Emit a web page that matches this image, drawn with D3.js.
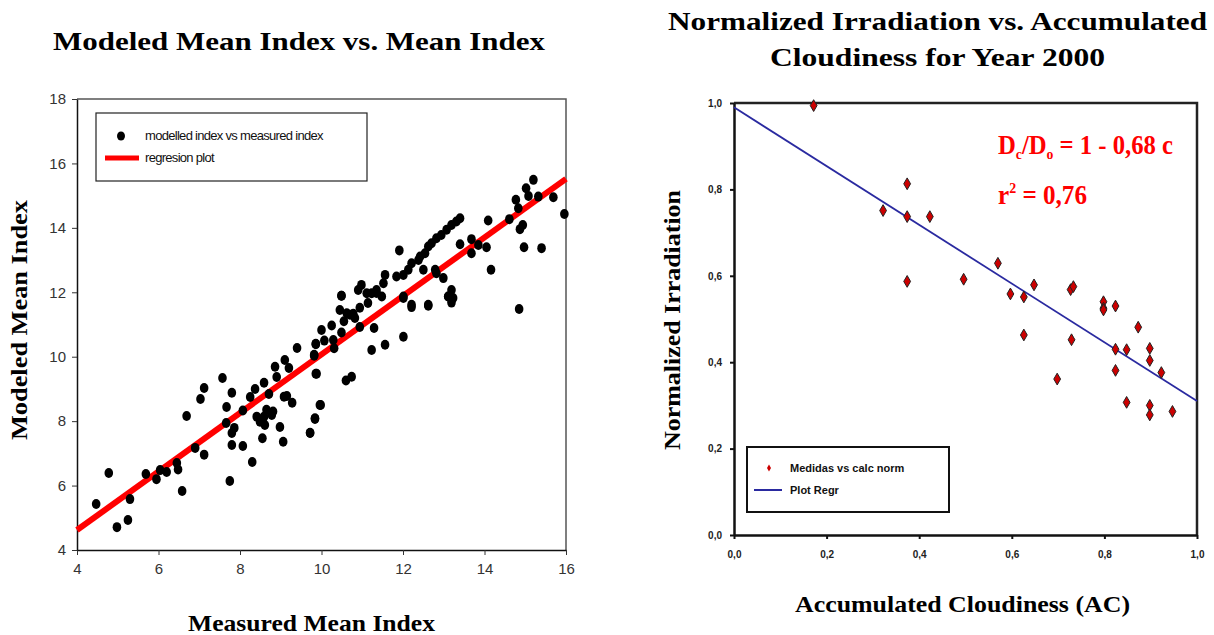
<!DOCTYPE html>
<html><head><meta charset="utf-8">
<script src="https://cdn.jsdelivr.net/npm/d3@7"></script>
<style>
body{margin:0;background:#fff;}
svg{display:block;}
</style></head>
<body><svg id="c" width="1214" height="635"></svg>
<script>
// ---------- Left chart data ----------
const leftMeasured = [4.47,4.78,4.98,5.25,5.30,5.69,5.95,6.04,6.2,6.45,6.48,6.58,6.69,6.9,7.03,7.12,7.12,7.57,7.67,7.66,7.75,7.80,7.80,7.80,7.86,8.07,8.07,8.25,8.3,8.37,8.41,8.49,8.55,8.59,8.59,8.61,8.65,8.71,8.78,8.81,8.86,8.90,8.98,9.06,9.08,9.10,9.15,9.2,9.28,9.4,9.72,9.82,9.84,9.86,9.88,9.96,
10.49,10.62,10.78,10.94,11.14,11.35,11.48,10.0,10.25,10.07,9.86,9.82,10.29,10.31,10.49,10.94,11.29,11.23,11.56,12.01,12.01,12.21,12.62,13.11,13.19,14.85,9.86,10.6,10.74,9.98,9.84,9.72,
15.2,15.02,15.08,15.32,15.69,14.77,14.83,14.61,15.96,14.09,14.94,14.87,14.97,15.4,14.16,13.4,13.31,13.19,13.07,12.94,12.82,12.7,12.62,12.54,12.42,12.38,11.91,13.4,13.68,13.68,13.85,14.05,12.21,12.13,12.01,11.84,11.56,11.52,11.35,11.23,10.98,10.9,11.11,12.5,12.79,12.82,12.99,13.19,13.23,13.11,12.01,12.21,12.62,10.49,10.55,10.7,10.45,10.82];
const leftModeled = [5.43,6.39,4.71,4.93,5.58,6.36,6.2,6.48,6.42,6.7,6.5,5.83,8.16,7.17,8.69,9.03,6.96,9.34,8.44,7.94,6.14,8.88,7.63,7.26,7.79,7.23,8.33,8.75,6.73,9.0,8.14,7.98,7.47,9.19,8.14,7.88,8.35,8.84,8.19,8.30,9.69,9.37,7.82,7.36,8.76,9.9,8.78,9.65,8.57,10.27,7.63,10.03,8.07,10.4,9.47,8.5,
11.89,11.35,11.33,11.52,11.67,11.98,11.87,10.83,10.97,10.5,10.39,10.06,10.52,10.26,10.75,10.92,10.89,10.21,10.37,10.62,11.82,11.54,11.58,11.87,11.68,11.48,9.47,9.26,9.38,8.5,8.09,7.64,
15.49,15.23,14.99,14.97,14.95,14.87,14.61,14.27,14.43,14.23,14.09,13.96,13.4,13.37,12.7,14.3,14.2,14.09,13.94,13.78,13.68,13.52,13.42,13.21,13.11,13.0,13.3,13.49,13.65,13.21,13.47,13.4,12.9,12.7,12.54,12.49,12.54,12.28,12.07,11.97,12.23,12.07,11.97,12.7,12.7,12.59,12.44,12.07,11.82,11.87,11.87,11.61,11.61,11.89,11.1,11.3,11.45,11.2];
const leftRegX = [4, 16];
const leftRegY = [4.62, 15.52];
const leftXTicks = [4, 6, 8, 10, 12, 14, 16];
const leftYTicks = [4, 6, 8, 10, 12, 14, 16, 18];
const leftTitle = "Modeled Mean Index vs. Mean Index";
const leftXLabel = "Measured Mean Index";
const leftYLabel = "Modeled Mean Index";
const leftLegend = ["modelled index vs measured index", "regresion plot"];

// ---------- Right chart data ----------
const rightCloud = [0.172,0.374,0.322,0.374,0.423,0.374,0.570,0.496,0.597,0.626,0.648,0.727,0.733,0.798,0.798,0.824,0.798,0.626,0.729,0.698,0.873,0.824,0.848,0.898,0.898,0.824,0.923,0.848,0.898,0.898,0.947];
const rightIrrad = [0.994,0.813,0.751,0.737,0.737,0.587,0.629,0.592,0.558,0.551,0.579,0.568,0.575,0.540,0.525,0.530,0.521,0.463,0.452,0.361,0.481,0.430,0.429,0.432,0.404,0.381,0.376,0.307,0.300,0.278,0.286];
const rightRegX = [0, 1];
const rightRegY = [0.99, 0.31];
const rightTicks = [0, 0.2, 0.4, 0.6, 0.8, 1.0];
const rightTickLabels = ["0,0", "0,2", "0,4", "0,6", "0,8", "1,0"];
const rightTitle = ["Normalized Irradiation vs. Accumulated", "Cloudiness for Year 2000"];
const rightXLabel = "Accumulated Cloudiness (AC)";
const rightYLabel = "Normalized Irradiation";
const rightLegend = ["Medidas vs calc norm", "Plot Regr"];

const svg = d3.select("#c");
const serif = "'Liberation Serif','Times New Roman',serif";
const sans = "'Liberation Sans',Arial,sans-serif";

function boldText(parent, txt, size, len) {
  return parent.append("text").attr("font-family", serif).attr("font-weight", "bold")
    .attr("font-size", size).attr("textLength", len).attr("lengthAdjust", "spacingAndGlyphs")
    .attr("fill", "#000").text(txt);
}

// ================= LEFT =================
{
  const x = d3.scaleLinear().domain([4, 16]).range([77, 566]);
  const y = d3.scaleLinear().domain([4, 18]).range([550, 99]);
  const g = svg.append("g");

  g.append("path").attr("d", `M${x(4)},${y(18)}H${x(16)}V${y(4)}`)
    .attr("fill", "none").attr("stroke", "#555").attr("stroke-width", 1.5);

  const xa = g.append("g").attr("transform", `translate(0,${y(4)})`)
    .call(d3.axisBottom(x).tickValues(leftXTicks).tickSize(5).tickSizeOuter(0).tickPadding(8));
  const ya = g.append("g").attr("transform", `translate(${x(4)},0)`)
    .call(d3.axisLeft(y).tickValues(leftYTicks).tickSize(5).tickSizeOuter(0).tickPadding(6));
  [xa, ya].forEach(a => {
    a.select(".domain").attr("stroke", "#111").attr("stroke-width", 1.5);
    a.selectAll(".tick line").attr("stroke", "#333");
    a.selectAll("text").attr("font-family", sans).attr("font-size", 15).attr("fill", "#333");
  });

  g.append("line").attr("x1", x(leftRegX[0])).attr("y1", y(leftRegY[0]))
    .attr("x2", x(leftRegX[1])).attr("y2", y(leftRegY[1]))
    .attr("stroke", "#ff0000").attr("stroke-width", 6);

  g.append("g").selectAll("ellipse").data(leftMeasured.map((d, i) => [d, leftModeled[i]]))
    .join("ellipse").attr("cx", d => x(d[0])).attr("cy", d => y(d[1]))
    .attr("rx", 4.3).attr("ry", 5).attr("fill", "#000");

  const lg = g.append("g");
  lg.append("rect").attr("x", 96).attr("y", 113).attr("width", 271).attr("height", 68)
    .attr("fill", "#fff").attr("stroke", "#222").attr("stroke-width", 1.2);
  lg.append("ellipse").attr("cx", 121).attr("cy", 136).attr("rx", 4).attr("ry", 4.5).attr("fill", "#000");
  lg.append("line").attr("x1", 105).attr("x2", 139).attr("y1", 158).attr("y2", 158)
    .attr("stroke", "#ff0000").attr("stroke-width", 5);
  lg.selectAll("text").data(leftLegend).join("text")
    .attr("x", 145).attr("y", (d, i) => 140 + i * 22)
    .attr("font-family", sans).attr("font-size", 13).attr("letter-spacing", -0.7)
    .attr("fill", "#111").text(d => d);

  boldText(g, leftTitle, 25, 492).attr("x", 53).attr("y", 50);
  boldText(g, leftXLabel, 23, 247).attr("x", 188).attr("y", 631);
  boldText(g, leftYLabel, 23, 240).attr("transform", "translate(27,440) rotate(-90)");
}

// ================= RIGHT =================
{
  const x = d3.scaleLinear().domain([0, 1]).range([734, 1197]);
  const y = d3.scaleLinear().domain([0, 1]).range([535, 103]);
  const g = svg.append("g");

  g.append("path").attr("d", `M${x(0)},${y(1)}H${x(1)}V${y(0)}`)
    .attr("fill", "none").attr("stroke", "#222").attr("stroke-width", 2.5);

  const fmt = d => rightTickLabels[rightTicks.indexOf(d)];
  const xa = g.append("g").attr("transform", `translate(0,${y(0)})`)
    .call(d3.axisBottom(x).tickValues(rightTicks).tickFormat(fmt).tickSize(4).tickSizeOuter(0).tickPadding(12));
  const ya = g.append("g").attr("transform", `translate(${x(0)},0)`)
    .call(d3.axisLeft(y).tickValues(rightTicks).tickFormat(fmt).tickSize(4).tickSizeOuter(0).tickPadding(8));
  [xa, ya].forEach(a => {
    a.select(".domain").attr("stroke", "#111").attr("stroke-width", 2.5);
    a.selectAll(".tick line").attr("stroke", "#111").attr("stroke-width", 2);
    a.selectAll("text").attr("font-family", sans).attr("font-weight", "bold")
      .attr("font-size", 10).attr("fill", "#222");
  });

  g.append("line").attr("x1", x(rightRegX[0])).attr("y1", y(rightRegY[0]))
    .attr("x2", x(rightRegX[1])).attr("y2", y(rightRegY[1]))
    .attr("stroke", "#2a2aa0").attr("stroke-width", 1.8);

  const diamond = d3.symbol().type(d3.symbolDiamond).size(40);
  g.append("g").selectAll("path").data(rightCloud.map((d, i) => [d, rightIrrad[i]]))
    .join("path").attr("d", diamond)
    .attr("transform", d => `translate(${x(d[0])},${y(d[1])})`)
    .attr("fill", "#cc0000").attr("stroke", "#222").attr("stroke-width", 1);

  const ann = g.append("text").attr("x", 998).attr("y", 154)
    .attr("font-family", serif).attr("font-weight", "bold").attr("font-size", 27)
    .attr("fill", "#ff0000").attr("textLength", 175).attr("lengthAdjust", "spacingAndGlyphs");
  ann.append("tspan").text("D");
  ann.append("tspan").attr("font-size", 15).attr("dy", 5).text("c");
  ann.append("tspan").attr("dy", -5).text("/D");
  ann.append("tspan").attr("font-size", 15).attr("dy", 5).text("o");
  ann.append("tspan").attr("dy", -5).text(" = 1 - 0,68 c");
  const ann2 = g.append("text").attr("x", 998).attr("y", 204)
    .attr("font-family", serif).attr("font-weight", "bold").attr("font-size", 27)
    .attr("fill", "#ff0000").attr("textLength", 89).attr("lengthAdjust", "spacingAndGlyphs");
  ann2.append("tspan").text("r");
  ann2.append("tspan").attr("font-size", 15).attr("dy", -11).text("2");
  ann2.append("tspan").attr("dy", 11).text(" = 0,76");

  const lg = g.append("g");
  lg.append("rect").attr("x", 747).attr("y", 447).attr("width", 202).attr("height", 65)
    .attr("fill", "#fff").attr("stroke", "#111").attr("stroke-width", 2);
  lg.append("path").attr("d", d3.symbol().type(d3.symbolDiamond).size(14))
    .attr("transform", "translate(769,468)").attr("fill", "#cc0000");
  lg.append("line").attr("x1", 754).attr("x2", 782).attr("y1", 490).attr("y2", 490)
    .attr("stroke", "#2a2aa0").attr("stroke-width", 2);
  lg.selectAll("text").data(rightLegend).join("text")
    .attr("x", 790).attr("y", (d, i) => 472 + i * 22)
    .attr("font-family", sans).attr("font-weight", "bold").attr("font-size", 11)
    .attr("fill", "#111").text(d => d);

  boldText(g, rightTitle[0], 26, 539).attr("x", 668).attr("y", 30);
  boldText(g, rightTitle[1], 26, 335).attr("x", 770).attr("y", 66);
  boldText(g, rightXLabel, 23, 335).attr("x", 795).attr("y", 612);
  boldText(g, rightYLabel, 23, 260).attr("transform", "translate(680,450) rotate(-90)");
}
</script></body></html>
